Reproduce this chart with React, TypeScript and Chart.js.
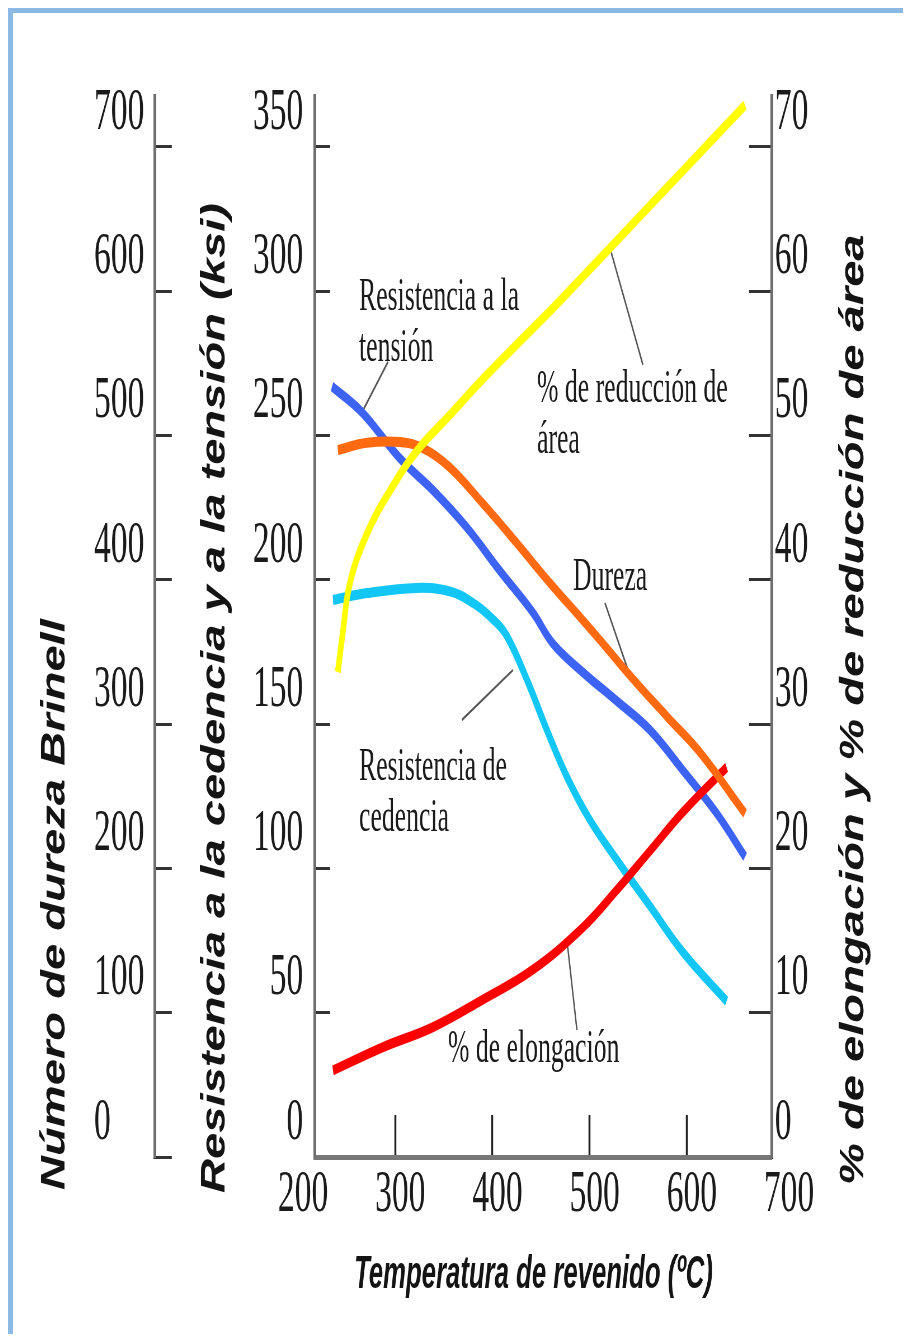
import React, { useEffect, useRef } from 'react';
import { Chart, registerables } from 'chart.js';

Chart.register(...registerables);

// ---- tick labels ----
const tempTicks = [200, 300, 400, 500, 600, 700];
const brinellTicks = [0, 100, 200, 300, 400, 500, 600, 700];
const ksiTicks = [0, 50, 100, 150, 200, 250, 300, 350];
const pctTicks = [0, 10, 20, 30, 40, 50, 60, 70];

// ---- series (temperature °C, value) ----
const reduccionTemp = [241, 246, 253.5, 271, 295, 322, 356, 390, 425, 459, 493, 521, 601, 660];
const reduccionPct = [33.6, 36.3, 39.8, 43.2, 46.2, 48.9, 51.4, 53.9, 56.3, 58.6, 61.0, 63.0, 68.7, 72.9];

const durezaTemp = [241, 271, 305, 329, 356, 390, 425, 459, 493, 511, 545, 580, 614, 660];
const durezaHB = [490, 495, 495.5, 491, 478, 453, 425.5, 398, 372, 358, 331, 305, 280, 238];

const elongTemp = [236, 287, 339, 390, 442, 493, 528, 562, 596, 641];
const elongPct = [6.0, 7.6, 9.0, 10.9, 13.0, 15.9, 18.5, 21.2, 23.9, 27.0];

const tensionTemp = [235, 266, 305, 339, 374, 408, 442, 462, 493, 528, 562, 596, 631, 660];
const tensionKsi = [267, 258, 242, 231, 218, 203, 188.5, 178, 168, 158, 148, 134, 119, 104];

const cedenciaTemp = [236, 271, 322, 356, 380, 400, 415, 436, 456, 477, 500, 528, 562, 596, 641];
const cedenciaKsi = [193, 195.4, 197.2, 196, 192, 186.5, 180.5, 165, 148, 131.5, 117, 103, 87, 71, 54];

// ---- annotation labels (data coords: temperature, % axis) ----
const annotations = [
  { lines: ['Resistencia a la', 'tensión'], x: 262.8, y: 58.7 },
  { lines: ['% de reducción de', 'área'], x: 445.9, y: 52.3 },
  { lines: ['Dureza'], x: 482.9, y: 39.3 },
  { lines: ['Resistencia de', 'cedencia'], x: 262.8, y: 26.1 },
  { lines: ['% de elongación'], x: 354.3, y: 6.6 },
];

// leader lines (data coords: temperature, % axis)
const leaderTemp = [[292.6, 265.8], [521.0, 554.9], [515.8, 539.5], [421.2, 368.7], [476.7, 487.0]];
const leaderPct = [[55.1, 51.6], [63.0, 54.9], [38.4, 33.75], [33.75, 30.29], [15.04, 8.8]];

const xTitle = 'Temperatura de revenido (ºC)';
const brinellTitle = 'Número de dureza Brinell';
const ksiTitle = 'Resistencia a la cedencia y a la tensión (ksi)';
const pctTitle = '% de elongación y % de reducción de área';

const W = 1600;
const H = 1326;
const CSS_W = 895;

const pts = (xs: number[], ys: number[]) => xs.map((x, i) => ({ x, y: ys[i] }));

function drawRotated(ctx: CanvasRenderingContext2D, text: string, x: number, yBottom: number) {
  ctx.save();
  ctx.translate(x, yBottom);
  ctx.rotate(-Math.PI / 2);
  ctx.scale(0.76, 1);
  ctx.font = 'italic bold 62px "Liberation Sans"';
  ctx.fillStyle = '#141414';
  ctx.textAlign = 'left';
  ctx.textBaseline = 'middle';
  ctx.fillText(text, 0, 0);
  ctx.restore();
}

const textPlugin = {
  id: 'figureText',
  afterDatasetsDraw(chart: any) {
    const ctx: CanvasRenderingContext2D = chart.ctx;
    const xs = chart.scales.x;
    const yp = chart.scales.yP;
    ctx.save();
    ctx.font = '46px "Liberation Serif"';
    ctx.fillStyle = '#1a1a1a';
    ctx.textAlign = 'left';
    ctx.textBaseline = 'alphabetic';
    annotations.forEach((a) => {
      const x = xs.getPixelForValue(a.x);
      const y = yp.getPixelForValue(a.y);
      a.lines.forEach((t, i) => ctx.fillText(t, x, y + i * 51));
    });
    ctx.restore();
  },
  afterDraw(chart: any) {
    const ctx: CanvasRenderingContext2D = chart.ctx;
    const ca = chart.chartArea;
    const yB = chart.scales.yB;
    const yP = chart.scales.yP;
    drawRotated(ctx, brinellTitle, yB.left - 70, ca.bottom + 33);
    drawRotated(ctx, ksiTitle, yB.right + 107, ca.bottom + 36);
    drawRotated(ctx, pctTitle, yP.left + 146, ca.bottom + 28);
    ctx.save();
    ctx.font = 'italic bold 46px "Liberation Sans"';
    ctx.fillStyle = '#141414';
    ctx.textAlign = 'center';
    ctx.textBaseline = 'alphabetic';
    ctx.fillText(xTitle, (ca.left + ca.right) / 2 - 18, ca.bottom + 131);
    ctx.restore();
  },
};

const tickFont = { family: 'Liberation Serif', size: 60, weight: 'normal' as const };

function yAxis(pos: 'left' | 'right', max: number, ticks: number[], width: number, weight: number, tickLen: number, padding: number, crossAlign: string) {
  return {
    type: 'linear',
    position: pos,
    weight,
    min: 0,
    max,
    afterBuildTicks: (s: any) => {
      s.ticks = ticks.map((v) => ({ value: v }));
    },
    afterFit: (s: any) => {
      s.width = width;
    },
    grid: {
      display: true,
      drawOnChartArea: false,
      drawTicks: true,
      tickLength: tickLen,
      tickWidth: 3,
      tickColor: '#333333',
      color: '#333333',
    },
    border: { display: true, color: '#6e6e6e', width: 5 },
    ticks: {
      font: tickFont,
      color: '#1a1a1a',
      padding,
      labelOffset: -34,
      crossAlign,
      autoSkip: false,
    },
  };
}

export default function App() {
  const ref = useRef<HTMLCanvasElement | null>(null);

  useEffect(() => {
    if (!ref.current) return;
    const line = (data: any[], color: string, yAxisID: string, width = 10) => ({
      data,
      borderColor: color,
      backgroundColor: color,
      borderWidth: width,
      pointRadius: 0,
      fill: false,
      xAxisID: 'x',
      yAxisID,
      tension: 0.4,
    });
    const leaders = leaderTemp.map((xs, i) => ({
      data: pts(xs, leaderPct[i]),
      borderColor: '#555555',
      borderWidth: 2.5,
      pointRadius: 0,
      fill: false,
      tension: 0,
      xAxisID: 'x',
      yAxisID: 'yP',
    }));
    const chart = new Chart(ref.current, {
      type: 'line',
      data: {
        datasets: [
          { label: '% de reducción de área', ...line(pts(reduccionTemp, reduccionPct), '#ffff00', 'yP') },
          { label: 'Dureza', ...line(pts(durezaTemp, durezaHB), '#ff6a10', 'yB') },
          { label: '% de elongación', ...line(pts(elongTemp, elongPct), '#ff0000', 'yP') },
          { label: 'Resistencia a la tensión', ...line(pts(tensionTemp, tensionKsi), '#3d63f5', 'yK') },
          { label: 'Resistencia de cedencia', ...line(pts(cedenciaTemp, cedenciaKsi), '#12c6f5', 'yK') },
          ...leaders,
        ] as any,
      },
      options: {
        responsive: false,
        animation: false,
        devicePixelRatio: 1,
        events: [],
        layout: { padding: { left: 153.7, top: 88, right: 0, bottom: 0 } },
        plugins: { legend: { display: false }, tooltip: { enabled: false } },
        scales: {
          x: {
            type: 'linear',
            position: 'bottom',
            min: 217.5,
            max: 687.7,
            afterBuildTicks: (s: any) => {
              s.ticks = tempTicks.map((v) => ({ value: v }));
            },
            afterFit: (s: any) => {
              s.height = 177;
            },
            grid: {
              display: true,
              drawOnChartArea: false,
              drawTicks: true,
              tickLength: -42,
              tickWidth: 3.5,
              tickColor: (c: any) =>
                c.tick && (c.tick.value === 200 || c.tick.value === 700) ? 'rgba(0,0,0,0)' : '#222222',
              color: '#222222',
            },
            border: { display: true, color: '#777777', width: 5 },
            ticks: {
              font: tickFont,
              color: '#1a1a1a',
              padding: 44,
              labelOffset: 9,
              maxRotation: 0,
              minRotation: 0,
              autoSkip: false,
            },
          },
          yB: yAxis('left', 735.3, brinellTicks, 109.1, 2, -30, 48, 'far'),
          yK: yAxis('left', 367.65, ksiTicks, 286.0, 1, -27, 48, 'near'),
          yP: yAxis('right', 73.53, pctTicks, 234.2, 1, -41, 46, 'near'),
        } as any,
      },
      plugins: [textPlugin],
    } as any);
    return () => chart.destroy();
  }, []);

  return (
    <div style={{ position: 'relative', width: CSS_W, height: H }}>
      <canvas
        ref={ref}
        width={W}
        height={H}
        style={{ display: 'block', width: CSS_W + 'px', height: H + 'px' }}
      />
      <div
        style={{
          position: 'absolute',
          left: -1,
          top: -4,
          width: 903,
          height: 1334,
          boxSizing: 'border-box',
          borderTop: '9px solid #8cb9e3',
          borderLeft: '6px solid #8cb9e3',
          pointerEvents: 'none',
        }}
      />
    </div>
  );
}
